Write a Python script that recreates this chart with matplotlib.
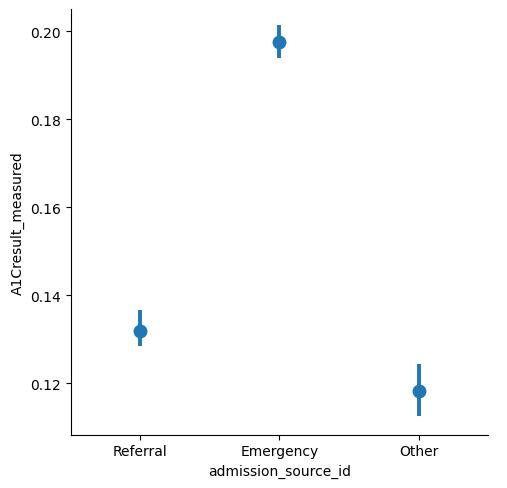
import matplotlib.pyplot as plt

categories = ["Referral", "Emergency", "Other"]
means = [0.1320, 0.1975, 0.1182]
ci_low = [0.1284, 0.1940, 0.1125]
ci_high = [0.1367, 0.2014, 0.1243]

fig = plt.figure(figsize=(5.07, 4.89), dpi=100)
ax = fig.add_axes([0.1395, 0.109, 0.8235, 0.8705])

x = range(len(categories))
yerr = [[m - lo for m, lo in zip(means, ci_low)],
        [hi - m for m, hi in zip(means, ci_high)]]
ax.errorbar(x, means, yerr=yerr, fmt="o", color="#1f77b4",
            ms=9, elinewidth=2.8, capsize=0)

ax.set_xticks(list(x))
ax.set_xticklabels(categories)
ax.set_xlim(-0.5, 2.5)
ax.set_ylim(0.10832, 0.20507)
ax.set_yticks([0.12, 0.14, 0.16, 0.18, 0.20])
ax.set_yticklabels(["0.12", "0.14", "0.16", "0.18", "0.20"])
ax.set_xlabel("admission_source_id")
ax.set_ylabel("A1Cresult_measured")
ax.spines["top"].set_visible(False)
ax.spines["right"].set_visible(False)

fig.savefig("out.png", dpi=100)
